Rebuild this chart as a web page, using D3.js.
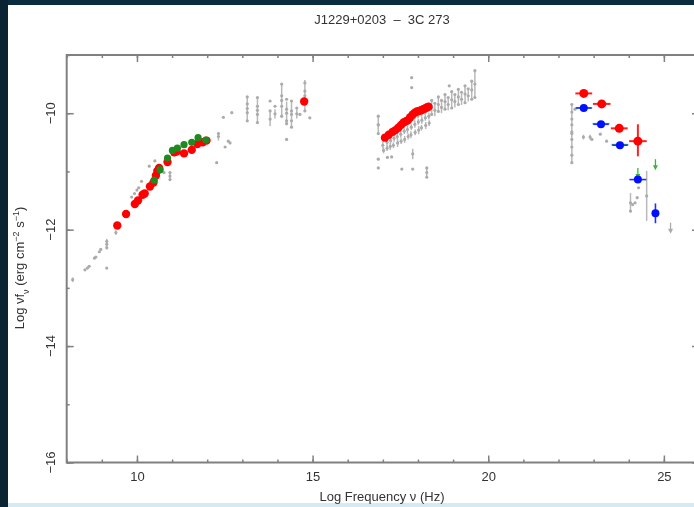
<!doctype html>
<html>
  <head>
    <script src="https://cdnjs.cloudflare.com/ajax/libs/d3/7.8.5/d3.min.js"></script>
    <style>
      body { margin: 0; background: #fff; overflow: hidden; }
      svg { display: block; filter: blur(0.6px); }
      text { font-family: "Liberation Sans", Arial, sans-serif; fill: #333; }
    </style>
  </head>
  <body>
    <svg width="694" height="507"></svg>
    <script>
      // synchrotron part, red and green simultaneous data
      var redSync = [[9.44,-11.93],[9.69,-11.73],[9.94,-11.56],[10.03,-11.50],[10.16,-11.40],[10.22,-11.38],
        [10.37,-11.26],[10.47,-11.19],[10.54,-11.07],[10.58,-10.99],[10.63,-10.94],[10.87,-10.84],[11.06,-10.67],
        [11.13,-10.66],[11.34,-10.69],[11.56,-10.63],[11.72,-10.53],[11.87,-10.50],[11.98,-10.47],[14.76,-9.80],
        [17.06,-10.42],[17.17,-10.37],[17.28,-10.32],[17.36,-10.29],[17.44,-10.25],[17.52,-10.20],[17.59,-10.16],
        [17.65,-10.14],[17.71,-10.12],[17.78,-10.07],[17.85,-10.02],[17.91,-9.99],[17.97,-9.97],[18.03,-9.96],
        [18.09,-9.95],[18.15,-9.93],[18.20,-9.92],[18.25,-9.90],[18.30,-9.89]];
      var greenSync = [[10.49,-11.15],[10.66,-10.97],[10.87,-10.77],[11.01,-10.64],[11.15,-10.60],[11.34,-10.54],
        [11.56,-10.50],[11.74,-10.42],[11.96,-10.46]];

      // gamma-ray points: x, y, half width in x
      var redGamma = [[22.72,-9.66,0.24],[23.23,-9.84,0.25],[23.73,-10.26,0.24],[24.26,-10.48,0.25]];
      var redGammaYerr = [[24.26,-10.74,-10.19]];
      var blueGamma = [[22.72,-9.91,0.22],[23.21,-10.19,0.22],[23.75,-10.55,0.22],[24.26,-11.14,0.24],[24.76,-11.72,0]];
      var blueGammaYerr = [[24.76,-11.89,-11.55]];
      var greenBars = [[22.72,-9.91,0.24],[23.21,-10.18,0.24],[23.75,-10.54,0.24]];
      var greenLimits = [[24.26,-10.94],[24.76,-10.79]];

      // archival data: x, y, half error in y (0 = none)
      var grayRadio = [[8.17,-12.86,0.04],[8.52,-12.69,0],[8.59,-12.66,0],[8.64,-12.63,0],[8.79,-12.49,0],
        [8.83,-12.47,0],[8.93,-12.38,0],[8.97,-12.34,0],[9.14,-12.20,0],[9.14,-12.25,0.09],[9.14,-12.31,0],
        [9.14,-12.66,0],[9.40,-12.05,0.04],[9.85,-11.44,0],[9.93,-11.38,0],[10.0,-11.32,0],[10.05,-11.28,0],
        [10.13,-11.17,0],[10.35,-10.91,0],[10.51,-10.82,0],[10.42,-11.16,0],[10.77,-11.02,0],[10.94,-11.02,0],
        [10.94,-11.08,0.08],[10.94,-11.14,0],[12.27,-10.85,0],[12.32,-10.35,0],[12.32,-10.40,0.07],
        [12.46,-10.07,0],[12.70,-9.99,0],[12.51,-10.58,0],[12.65,-10.51,0],[12.60,-10.48,0]];
      var grayOptical = [[13.14,-9.72,0],[13.14,-9.84,0],[13.14,-9.99,0],[13.14,-10.13,0],[13.14,-9.92,0.2],
        [13.43,-9.73,0],[13.43,-9.88,0],[13.43,-10.02,0],[13.43,-10.16,0],[13.43,-9.95,0.22],
        [13.79,-9.79,0],[13.79,-9.96,0],[13.79,-10.10,0.12],[13.93,-9.88,0],[13.93,-10.01,0.08],
        [14.12,-9.50,0],[14.12,-9.70,0],[14.12,-9.88,0],[14.12,-10.05,0],[14.12,-9.78,0.3],
        [14.26,-9.76,0],[14.26,-9.93,0],[14.26,-10.13,0],[14.26,-10.18,0],[14.26,-10.0,0.2],
        [14.40,-9.79,0],[14.40,-9.96,0],[14.40,-10.13,0],[14.40,-10.24,0],[14.40,-10.02,0.23],
        [14.55,-9.91,0],[14.55,-10.01,0.08],[14.64,-10.02,0],[14.78,-9.48,0],[14.78,-9.62,0],
        [14.78,-9.79,0],[14.78,-9.96,0],[14.78,-9.70,0.27],[14.92,-10.08,0],[14.26,-10.45,0]];
      var grayXray = [[16.87,-10.05,0],[16.87,-10.20,0],[16.87,-10.35,0],[16.87,-10.20,0.17],
        [17.00,-10.42,0.06],[17.00,-10.55,0.06],[17.02,-10.64,0.05],[17.10,-10.38,0.05],[17.12,-10.50,0.07],[17.12,-10.60,0.05],
        [17.20,-10.35,0.05],[17.22,-10.47,0.05],[17.21,-10.57,0.06],[17.30,-10.31,0.05],[17.32,-10.43,0.06],[17.30,-10.55,0.05],
        [17.40,-10.28,0.05],[17.41,-10.40,0.05],[17.42,-10.51,0.07],[17.50,-10.24,0.05],[17.51,-10.36,0.06],[17.52,-10.48,0.05],
        [17.60,-10.20,0.05],[17.61,-10.31,0.05],[17.62,-10.45,0.06],[17.70,-10.15,0.05],[17.70,-10.28,0.07],[17.72,-10.40,0.05],
        [17.80,-10.12,0.05],[17.81,-10.24,0.05],[17.80,-10.37,0.06],[17.90,-10.08,0.05],[17.91,-10.19,0.06],[17.92,-10.33,0.05],
        [18.00,-10.04,0.05],[18.01,-10.15,0.05],[18.02,-10.29,0.07],[18.10,-10.01,0.05],[18.11,-10.12,0.06],[18.10,-10.25,0.05],
        [18.20,-9.98,0.05],[18.21,-10.08,0.05],[18.22,-10.21,0.06],[18.30,-9.93,0.05],[18.31,-10.05,0.06],[18.32,-10.17,0.05],
        [18.39,-9.78,0],[18.39,-9.90,0.12],[18.39,-10.02,0],[18.48,-9.83,0],[18.48,-9.95,0.1],
        [18.58,-9.72,0],[18.58,-9.85,0.12],[18.58,-9.97,0],[18.67,-9.78,0],[18.67,-9.90,0.1],
        [18.77,-9.68,0],[18.77,-9.80,0.12],[18.77,-9.93,0],[18.86,-9.73,0],[18.86,-9.85,0.1],
        [18.96,-9.63,0],[18.96,-9.77,0.14],[18.96,-9.91,0],[19.05,-9.68,0],[19.05,-9.80,0.1],
        [19.15,-9.59,0],[19.15,-9.72,0.13],[19.15,-9.85,0],[19.24,-9.64,0],[19.24,-9.76,0.1],
        [19.34,-9.53,0],[19.34,-9.67,0.14],[19.34,-9.82,0],[19.43,-9.58,0],[19.43,-9.70,0.1],
        [19.53,-9.45,0],[19.53,-9.60,0.15],[19.53,-9.76,0],[19.62,-9.27,0],[19.62,-9.50,0.23],[19.62,-9.73,0],
        [17.82,-9.39,0],[17.82,-9.56,0],[18.89,-9.53,0],[16.87,-10.79,0],[16.87,-10.94,0],[17.13,-10.76,0],
        [17.25,-10.75,0],[17.54,-10.96,0],[17.85,-10.96,0],[17.85,-10.70,0.09],[18.25,-10.94,0],
        [18.25,-11.10,0],[18.25,-11.02,0.09]];
      var grayGamma = [[22.38,-9.85,0],[22.38,-9.98,0],[22.38,-10.10,0],[22.38,-10.20,0],[22.38,-10.32,0],
        [22.38,-10.45,0],[22.38,-10.58,0],[22.38,-10.72,0],[22.38,-10.85,0],[22.38,-10.35,0.52],
        [22.47,-9.93,0],[22.71,-10.41,0.04],[22.90,-10.41,0.04],[22.95,-10.45,0],[23.19,-10.36,0],
        [23.37,-10.48,0],[24.05,-11.54,0.17],[24.05,-11.68,0],[24.11,-11.57,0],[24.18,-11.54,0],
        [24.24,-11.45,0],[24.28,-11.28,0],[24.51,-11.42,0.43]];
      var grayLimits = [[25.19,-11.88]];

      var xTicks = [10, 15, 20, 25];
      var yTicks = [-16, -14, -12, -10];

      var svg = d3.select("svg");

      // page border
      svg.append("rect").attr("x", 0).attr("y", 0).attr("width", 694).attr("height", 5).attr("fill", "#0b2b3f");
      svg.append("rect").attr("x", 0).attr("y", 0).attr("width", 8).attr("height", 507).attr("fill", "#0b2434");
      svg.append("rect").attr("x", 8).attr("y", 503).attr("width", 686).attr("height", 4).attr("fill", "#d4ebf2");

      var x = d3.scaleLinear().domain([8, 26]).range([66.7, 699]);
      var y = d3.scaleLinear().domain([-16, -9]).range([462.5, 55]);

      var axisColor = "#808080";
      var minorX = d3.range(8, 27), minorY = d3.range(-16, -8);

      function styleAxis(g) {
        g.select(".domain").remove();
        g.selectAll("line").attr("stroke", axisColor).attr("stroke-width", 1.5);
        g.selectAll("text").attr("fill", "#3a3a3a").style("font-size", "13px");
      }

      // minor ticks
      svg.append("g").attr("transform", "translate(0,462.5)")
        .call(d3.axisBottom(x).tickValues(minorX).tickSize(-3).tickFormat("")).call(styleAxis);
      svg.append("g").attr("transform", "translate(0,55)")
        .call(d3.axisTop(x).tickValues(minorX).tickSize(-3).tickFormat("")).call(styleAxis);
      svg.append("g").attr("transform", "translate(66.7,0)")
        .call(d3.axisLeft(y).tickValues(minorY).tickSize(-3).tickFormat("")).call(styleAxis);
      svg.append("g").attr("transform", "translate(699,0)")
        .call(d3.axisRight(y).tickValues(minorY).tickSize(-3).tickFormat("")).call(styleAxis);

      // major ticks
      svg.append("g").attr("transform", "translate(0,462.5)")
        .call(d3.axisBottom(x).tickValues(xTicks).tickSize(-7).tickPadding(9).tickFormat(d3.format("d"))).call(styleAxis);
      svg.append("g").attr("transform", "translate(0,55)")
        .call(d3.axisTop(x).tickValues(xTicks).tickSize(-7).tickFormat("")).call(styleAxis);
      svg.append("g").attr("transform", "translate(66.7,0)")
        .call(d3.axisLeft(y).tickValues(yTicks).tickSize(-7).tickFormat("")).call(styleAxis);
      svg.append("g").attr("transform", "translate(699,0)")
        .call(d3.axisRight(y).tickValues(yTicks).tickSize(-7).tickFormat("")).call(styleAxis);

      // rotated y tick labels
      svg.append("g").selectAll("text").data(yTicks).enter().append("text")
        .attr("transform", d => "translate(50," + y(d) + ") rotate(-90)")
        .attr("text-anchor", "middle").attr("dy", "0.35em").style("font-size", "13px").attr("fill", "#3a3a3a")
        .text(d => "\u2212" + Math.abs(d));

      // frame
      svg.append("rect").attr("x", 66.7).attr("y", 55).attr("width", 699 - 66.7).attr("height", 462.5 - 55)
        .attr("fill", "none").attr("stroke", axisColor).attr("stroke-width", 2);

      // titles
      svg.append("text").attr("x", 382).attr("y", 24).attr("text-anchor", "middle")
        .style("font-size", "13px").style("white-space", "pre").text("J1229+0203  \u2013  3C 273");
      svg.append("text").attr("x", 382).attr("y", 501).attr("text-anchor", "middle")
        .style("font-size", "13px").text("Log Frequency \u03bd (Hz)");
      var yl = svg.append("text").attr("transform", "translate(24,268) rotate(-90)")
        .attr("text-anchor", "middle").style("font-size", "13px");
      yl.append("tspan").text("Log \u03bdf");
      yl.append("tspan").attr("baseline-shift", "sub").style("font-size", "9px").text("\u03bd");
      yl.append("tspan").text(" (erg cm");
      yl.append("tspan").attr("baseline-shift", "super").style("font-size", "9px").text("\u22122");
      yl.append("tspan").text(" s");
      yl.append("tspan").attr("baseline-shift", "super").style("font-size", "9px").text("\u22121");
      yl.append("tspan").text(")");

      // archival gray data
      var gray = grayRadio.concat(grayOptical, grayXray, grayGamma);
      var gg = svg.append("g");
      gg.selectAll("line").data(gray.filter(d => d[2] > 0)).enter().append("line")
        .attr("x1", d => x(d[0])).attr("x2", d => x(d[0]))
        .attr("y1", d => y(d[1] - d[2])).attr("y2", d => y(d[1] + d[2]))
        .attr("stroke", "#b8b8b8").attr("stroke-width", 1.5);
      gg.selectAll("circle").data(gray).enter().append("circle")
        .attr("cx", d => x(d[0])).attr("cy", d => y(d[1])).attr("r", 1.6).attr("fill", "#ababab");

      function limits(data, color) {
        var g = svg.append("g");
        g.selectAll("line").data(data).enter().append("line")
          .attr("x1", d => x(d[0])).attr("x2", d => x(d[0]))
          .attr("y1", d => y(d[1])).attr("y2", d => y(d[1]) + 9)
          .attr("stroke", color).attr("stroke-width", 1.3);
        g.selectAll("path").data(data).enter().append("path")
          .attr("d", d => "M" + (x(d[0]) - 2.5) + "," + (y(d[1]) + 6) + "L" + (x(d[0]) + 2.5) + "," + (y(d[1]) + 6)
            + "L" + x(d[0]) + "," + (y(d[1]) + 11) + "Z")
          .attr("fill", color);
      }
      limits(grayLimits, "#ababab");

      function hbars(data, color, w) {
        svg.append("g").selectAll("line").data(data.filter(d => d[2] > 0)).enter().append("line")
          .attr("x1", d => x(d[0] - d[2])).attr("x2", d => x(d[0] + d[2]))
          .attr("y1", d => y(d[1])).attr("y2", d => y(d[1]))
          .attr("stroke", color).attr("stroke-width", w);
      }
      function vbars(data, color, w) {
        svg.append("g").selectAll("line").data(data).enter().append("line")
          .attr("x1", d => x(d[0])).attr("x2", d => x(d[0]))
          .attr("y1", d => y(d[1])).attr("y2", d => y(d[2]))
          .attr("stroke", color).attr("stroke-width", w);
      }
      function dots(data, color, r) {
        svg.append("g").selectAll("circle").data(data).enter().append("circle")
          .attr("cx", d => x(d[0])).attr("cy", d => y(d[1])).attr("r", r).attr("fill", color);
      }

      // simultaneous data
      dots(redSync, "#ff0000", 4.2);
      dots(greenSync, "#1f8a1f", 3.6);

      hbars(greenBars, "#3cb43c", 1.6);
      limits(greenLimits, "#3cb43c");
      hbars(redGamma, "#ff2020", 2);
      vbars(redGammaYerr, "#ff2020", 2);
      hbars(blueGamma, "#2030ff", 1.6);
      vbars(blueGammaYerr, "#2030ff", 1.6);
      dots(redGamma, "#ff0000", 4.5);
      dots(blueGamma, "#0010ff", 4);
    </script>
  </body>
</html>
